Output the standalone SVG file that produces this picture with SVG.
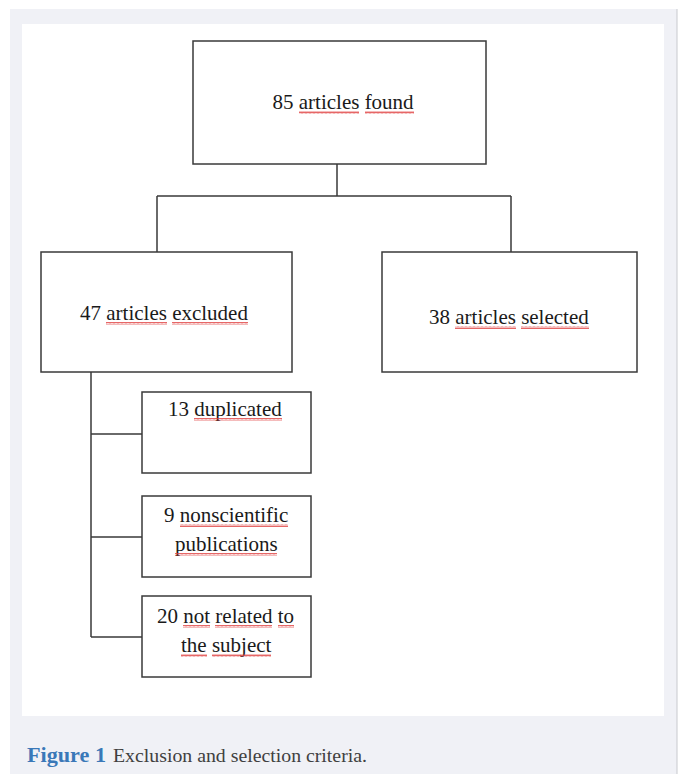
<svg xmlns="http://www.w3.org/2000/svg" width="680" height="774" viewBox="0 0 680 774">
<style>
.box{fill:#ffffff;stroke:#3a3a3a;stroke-width:1.5}
.ln{fill:none;stroke:#3a3a3a;stroke-width:1.5}
.t{font-family:"Liberation Serif","Times New Roman",serif;font-size:21px;fill:#1a1a1a}
.w{fill:url(#wavy)}
.cap{font-family:"Liberation Serif","Times New Roman",serif;font-size:19px;fill:#404040}
.capb{font-family:"Liberation Serif","Times New Roman",serif;font-size:20px;font-weight:bold;fill:#3a78b8}
</style>
<defs>
<pattern id="wavy" x="0" y="0" width="4" height="3" patternUnits="userSpaceOnUse">
<path d="M0,2.5 L1,0.5 L2,2.5 L3,0.5 L4,2.5" fill="none" stroke="#e04040" stroke-width="0.8"/>
</pattern>
</defs>
<rect x="0" y="0" width="680" height="774" fill="#ffffff"/>
<rect x="10" y="9" width="667" height="765" fill="#f0f1f6"/>
<line x1="677" y1="9" x2="677" y2="774" stroke="#c8c9ce" stroke-width="1"/>
<rect x="22" y="24" width="642" height="692" fill="#ffffff"/>

<g id="connectors">
<path class="ln" d="M337,164 V196 M157,196 H511 M157,196 V252 M511,196 V252"/>
<path class="ln" d="M91,372 V637 M91,434 H142 M91,537 H142 M91,637 H142"/>
</g>

<g id="found">
<rect class="box" x="193" y="41" width="293" height="123"/>
<text class="t" x="272.5" y="109">85 articles found</text>
<rect class="w" x="299" y="111" width="60" height="3"/>
<rect class="w" x="365" y="111" width="49" height="3"/>
</g>

<g id="excluded">
<rect class="box" x="41" y="252" width="251" height="120"/>
<text class="t" x="80" y="320">47 articles excluded</text>
<rect class="w" x="106" y="322" width="61" height="3"/>
<rect class="w" x="172" y="322" width="76" height="3"/>
</g>

<g id="selected">
<rect class="box" x="382" y="252" width="255" height="120"/>
<text class="t" x="429" y="324">38 articles selected</text>
<rect class="w" x="455" y="326" width="61" height="3"/>
<rect class="w" x="521" y="326" width="68" height="3"/>
</g>

<g id="duplicated">
<rect class="box" x="142" y="392" width="169" height="81"/>
<text class="t" x="168" y="416">13 duplicated</text>
<rect class="w" x="194" y="418" width="88" height="3"/>
</g>

<g id="nonscientific">
<rect class="box" x="142" y="496" width="169" height="81"/>
<text class="t" x="164" y="522">9 nonscientific</text>
<rect class="w" x="180" y="524" width="108" height="3"/>
<text class="t" x="175" y="551">publications</text>
<rect class="w" x="175" y="553" width="102" height="3"/>
</g>

<g id="notrelated">
<rect class="box" x="142" y="596" width="169" height="81"/>
<text class="t" x="157" y="623">20 not related to</text>
<rect class="w" x="183" y="625" width="27" height="3"/>
<rect class="w" x="215" y="625" width="57" height="3"/>
<rect class="w" x="278" y="625" width="16" height="3"/>
<text class="t" x="181" y="652">the subject</text>
<rect class="w" x="181" y="654" width="26" height="3"/>
<rect class="w" x="212" y="654" width="59" height="3"/>
</g>

<g id="caption">
<text class="capb" x="27" y="762" textLength="79" lengthAdjust="spacingAndGlyphs">Figure 1</text>
<text class="cap" x="113" y="762" textLength="254" lengthAdjust="spacingAndGlyphs">Exclusion and selection criteria.</text>
</g>
</svg>
